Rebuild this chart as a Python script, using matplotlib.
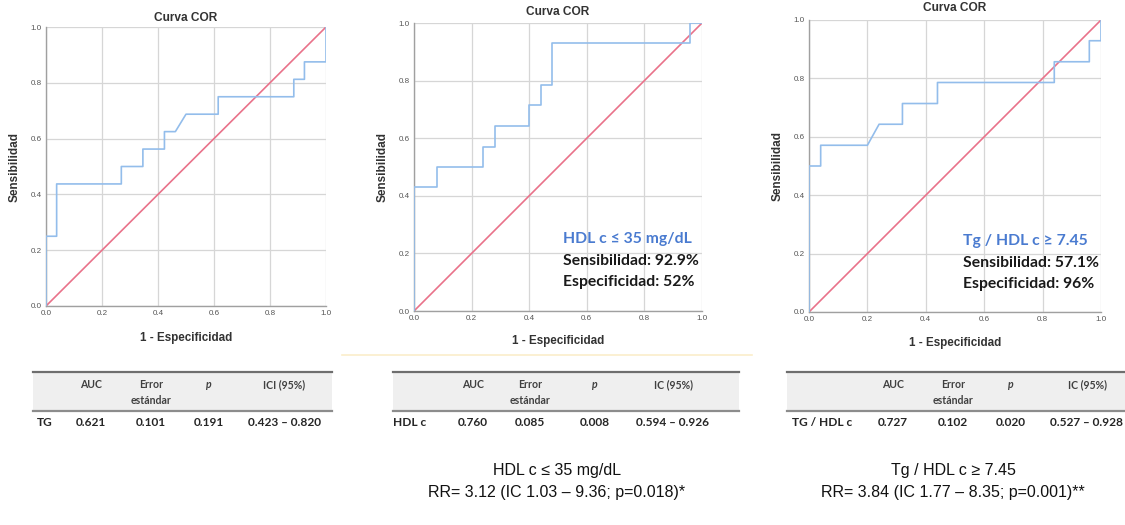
import matplotlib.pyplot as plt
from matplotlib.patches import Rectangle

plt.rcParams['font.family'] = ['Liberation Sans', 'DejaVu Sans']

W, H = 1125, 525

# ROC curves (1 - especificidad, sensibilidad)
tg_fpr = [0, 0, 0.038, 0.038, 0.269, 0.269, 0.346, 0.346, 0.423, 0.423, 0.462, 0.5, 0.615, 0.615, 0.885, 0.885, 0.923, 0.923, 1.0, 1.0]
tg_tpr = [0, 0.25, 0.25, 0.4375, 0.4375, 0.5, 0.5, 0.5625, 0.5625, 0.625, 0.625, 0.6875, 0.6875, 0.75, 0.75, 0.8125, 0.8125, 0.875, 0.875, 1.0]

hdl_fpr = [0, 0, 0.08, 0.08, 0.24, 0.24, 0.28, 0.28, 0.40, 0.40, 0.44, 0.44, 0.48, 0.48, 0.96, 0.96, 1.0]
hdl_tpr = [0, 0.429, 0.429, 0.5, 0.5, 0.571, 0.571, 0.643, 0.643, 0.714, 0.714, 0.786, 0.786, 0.929, 0.929, 1.0, 1.0]

ratio_fpr = [0, 0, 0.04, 0.04, 0.20, 0.24, 0.32, 0.32, 0.44, 0.44, 0.84, 0.84, 0.96, 0.96, 1.0, 1.0]
ratio_tpr = [0, 0.5, 0.5, 0.571, 0.571, 0.643, 0.643, 0.714, 0.714, 0.786, 0.786, 0.857, 0.857, 0.929, 0.929, 1.0]

ticks = [0.0, 0.2, 0.4, 0.6, 0.8, 1.0]

# tables
header = ["AUC", "Error\nestándar", "p"]
ic_headers = ["ICI (95%)", "IC (95%)", "IC (95%)"]
row_names = ["TG", "HDL c", "TG / HDL c"]
auc = ["0.621", "0.760", "0.727"]
err = ["0.101", "0.085", "0.102"]
pval = ["0.191", "0.008", "0.020"]
ic = ["0.423 – 0.820", "0.594 – 0.926", "0.527 – 0.928"]

# cut-off notes
cut_titles = ["HDL c ≤ 35 mg/dL", "Tg / HDL c ≥ 7.45"]
sens = ["Sensibilidad: 92.9%", "Sensibilidad: 57.1%"]
espec = ["Especificidad: 52%", "Especificidad: 96%"]
rr_text = ["RR= 3.12 (IC 1.03 – 9.36; p=0.018)*", "RR= 3.84 (IC 1.77 – 8.35; p=0.001)**"]

fig = plt.figure(figsize=(W / 100, H / 100), dpi=100)

# pixel boxes: left, right, top, bottom
boxes = [(46, 326, 27, 306), (414, 702, 23, 311), (809, 1101, 20, 312)]
curves = [(tg_fpr, tg_tpr), (hdl_fpr, hdl_tpr), (ratio_fpr, ratio_tpr)]
title_y = [18, 12, 8]
xlab_y = [338, 341, 343]

for (l, r, t, b), (fx, fy), ty, xy in zip(boxes, curves, title_y, xlab_y):
    ax = fig.add_axes([l / W, 1 - b / H, (r - l) / W, (b - t) / H])
    ax.plot([0, 1], [0, 1], color='#e9728a', lw=1.2, zorder=2)
    ax.plot(fx, fy, color='#93bdeb', lw=1.2, zorder=3)
    ax.set_xlim(0, 1)
    ax.set_ylim(0, 1)
    ax.set_xticks(ticks)
    ax.set_yticks(ticks)
    ax.set_xticklabels([f"{v:.1f}" for v in ticks])
    ax.set_yticklabels([f"{v:.1f}" for v in ticks])
    ax.grid(True, color='#d6d6d6', lw=0.9)
    ax.set_axisbelow(True)
    for s in ['top', 'right']:
        ax.spines[s].set_visible(False)
    for s in ['left', 'bottom']:
        ax.spines[s].set_color('#a0a0a0')
        ax.spines[s].set_linewidth(1.0)
    ax.tick_params(length=0, labelsize=5.8, labelcolor='#555555', pad=3)
    ax.set_ylabel("Sensibilidad", fontsize=8.5, fontweight='bold', color='#333333', labelpad=7)
    fig.text((l + r) / 2 / W, 1 - ty / H, "Curva COR", ha='center', va='center',
             fontsize=8.6, fontweight='bold', color='#333333')
    fig.text((l + r) / 2 / W, 1 - xy / H, "1 - Especificidad", ha='center', va='center',
             fontsize=8.4, fontweight='bold', color='#333333')

ov = fig.add_axes([0, 0, 1, 1])
ov.set_xlim(0, W)
ov.set_ylim(H, 0)
ov.axis('off')

# faint separator
ov.plot([342, 752], [355, 355], color='#fbeecb', lw=1.2)

cal = ['Lato', 'DejaVu Sans']

# tables
tab_x = [(33, 332), (393, 739), (787, 1125)]
col_x = [[45, 91, 151, 209, 284], [410, 473, 530, 595, 673], [822, 893, 953, 1011, 1087]]
for i in range(3):
    x0, x1 = tab_x[i]
    ov.add_patch(Rectangle((x0, 372), x1 - x0, 39, facecolor='#efefef', edgecolor='none'))
    ov.plot([x0, x1], [372, 372], color='#6e6e6e', lw=1.6)
    ov.plot([x0, x1], [411, 411], color='#8c8c8c', lw=1.6)
    cx = col_x[i]
    for j, h in enumerate(header + [ic_headers[i]]):
        style = 'italic' if h == "p" else 'normal'
        for n, part in enumerate(h.split('\n')):
            ov.text(cx[j + 1], 385 + 16 * n, part, ha='center', va='center',
                    fontsize=7.6, fontweight='bold', fontstyle=style, color='#404040',
                    family=cal)
    vals = [row_names[i], auc[i], err[i], pval[i], ic[i]]
    for j, v in enumerate(vals):
        ov.text(cx[j], 423, v, ha='center', va='center', fontsize=8.6,
                fontweight='bold', color='#262626', family=cal)

# cut-off notes inside panels 2 and 3
note_x = [563, 963]
note_y = [239, 241]
for k in range(2):
    ov.text(note_x[k], note_y[k], cut_titles[k], ha='left', va='center', fontsize=11.3,
            fontweight='bold', color='#4a7bd0', family=cal)
    ov.text(note_x[k], note_y[k] + 22, sens[k], ha='left', va='center', fontsize=11.3,
            fontweight='bold', color='#1a1a1a', family=cal)
    ov.text(note_x[k], note_y[k] + 43, espec[k], ha='left', va='center', fontsize=11.3,
            fontweight='bold', color='#1a1a1a', family=cal)

# RR text at the bottom
narrow = ['Liberation Sans Narrow', 'Liberation Sans', 'DejaVu Sans']
rr_x = [557, 953]
for k in range(2):
    ov.text(rr_x[k], 471, cut_titles[k], ha='center', va='center', fontsize=11.5,
            color='#111111', family=narrow)
    ov.text(rr_x[k], 492, rr_text[k], ha='center', va='center', fontsize=11.5,
            color='#111111', family=narrow)

fig.savefig("out.png", dpi=100)
